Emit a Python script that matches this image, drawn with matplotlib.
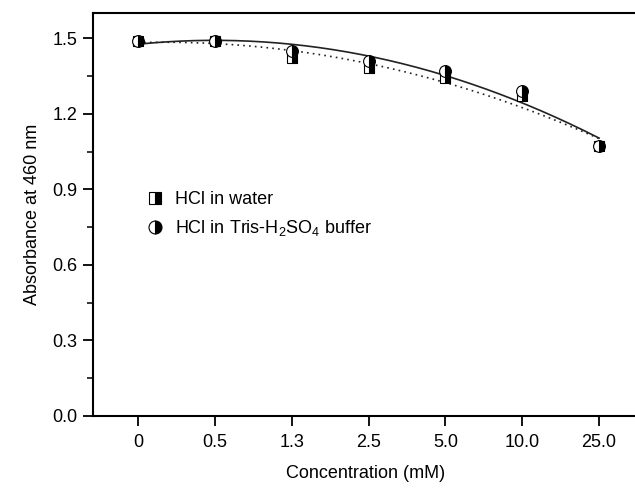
"""
Absorbance at 460 nm versus HCl concentration (water vs Tris-H2SO4 buffer).
"""

import matplotlib
matplotlib.use("Agg")
import matplotlib.pyplot as plt
import numpy as np
from matplotlib.ticker import MultipleLocator

plt.rcParams["font.family"] = ["Liberation Sans", "DejaVu Sans"]
plt.rcParams["mathtext.fontset"] = "custom"
plt.rcParams["mathtext.rm"] = "Liberation Sans"

conc_labels = ["0", "0.5", "1.3", "2.5", "5.0", "10.0", "25.0"]
abs_water = [1.49, 1.49, 1.42, 1.38, 1.34, 1.27, 1.07]
abs_buffer = [1.49, 1.49, 1.45, 1.41, 1.37, 1.29, 1.07]


def fit_curve(x, y, deg=2):
    coef = np.polyfit(x, y, deg)
    xs = np.linspace(x[0], x[-1], 200)
    return xs, np.polyval(coef, xs)


def main() -> None:
    fig = plt.figure(figsize=(6.35, 4.88), dpi=100)
    ax = fig.add_axes([93 / 635, 72 / 488, 546 / 635, 403 / 488])

    x = np.arange(len(conc_labels))

    # quadratic trend lines, as in the original figure
    xs, ys = fit_curve(x, abs_buffer)
    ax.plot(xs, ys, color="#222222", lw=1.2, ls="-", zorder=2)
    xs, ys = fit_curve(x, abs_water)
    ax.plot(xs, ys, color="#222222", lw=1.2, ls=(0, (1, 2.5)), zorder=2)

    common = dict(linestyle="none", markeredgecolor="black", markerfacecolor="black",
                  markerfacecoloralt="white", markeredgewidth=0.8, fillstyle="right", zorder=3)
    ax.plot(x, abs_water, marker="s", markersize=7.5, label="HCl in water", **common)
    ax.plot(x, abs_buffer, marker="o", markersize=8.5,
            label="HCl in Tris-H$\\mathregular{_2}$SO$\\mathregular{_4}$ buffer", **common)

    ax.set_xlim(-0.59, 6.52)
    ax.set_ylim(0.0, 1.6)
    ax.set_xticks(x, conc_labels)
    ax.yaxis.set_minor_locator(MultipleLocator(0.15))
    ax.set_yticks(np.arange(0, 1.51, 0.3))
    ax.yaxis.set_major_formatter(plt.FuncFormatter(lambda v, p: f"{v:.1f}"))

    ax.tick_params(axis="both", which="major", direction="out", length=7, width=1.3,
                   labelsize=13, pad=4)
    ax.tick_params(axis="y", which="minor", direction="out", length=4, width=1.1)
    ax.tick_params(axis="x", pad=6)
    for side in ("left", "bottom", "top"):
        ax.spines[side].set_linewidth(1.5)
    ax.spines["right"].set_visible(False)

    ax.set_xlabel("Concentration (mM)", fontsize=13, labelpad=10)
    ax.set_ylabel("Absorbance at 460 nm", fontsize=13, labelpad=8)

    ax.legend(loc="center left", bbox_to_anchor=(0.068, 0.5), frameon=False,
              fontsize=13, handlelength=1.0, handletextpad=0.6, labelspacing=0.55,
              markerscale=1.1)

    fig.savefig("out.png", dpi=100)


if __name__ == "__main__":
    main()
